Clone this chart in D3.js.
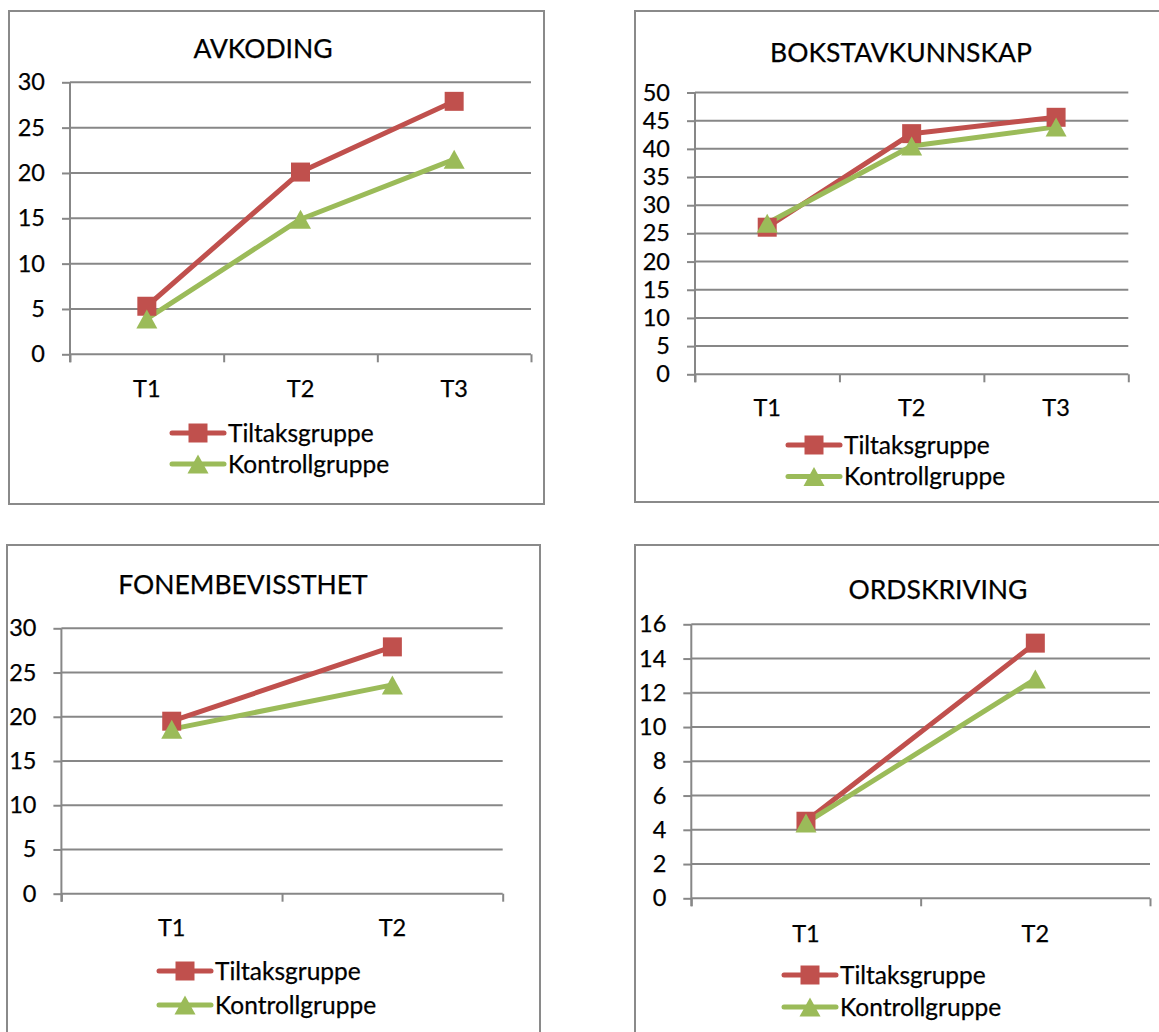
<!DOCTYPE html>
<html>
<head>
<meta charset="utf-8">
<script src="https://cdn.jsdelivr.net/npm/d3@7"></script>
<style>
  html, body { margin: 0; padding: 0; background: #fff; }
  svg { display: block; }
  text { font-family: Lato, "Open Sans", sans-serif; fill: #000; stroke: #000; stroke-width: 0.25px; }
</style>
</head>
<body>
<svg id="chart" width="1159" height="1032"></svg>
<script>
// Series names shared by all four charts
const seriesNames = ["Tiltaksgruppe", "Kontrollgruppe"];

// AVKODING
const avkodingTitle = "AVKODING";
const avkodingCategories = ["T1", "T2", "T3"];
const avkodingTiltak = [5.3, 20.1, 27.9];
const avkodingKontroll = [3.9, 14.9, 21.5];
const avkodingTicks = [0, 5, 10, 15, 20, 25, 30];

// BOKSTAVKUNNSKAP
const bokstavTitle = "BOKSTAVKUNNSKAP";
const bokstavCategories = ["T1", "T2", "T3"];
const bokstavTiltak = [26.1, 42.7, 45.6];
const bokstavKontroll = [26.8, 40.5, 43.9];
const bokstavTicks = [0, 5, 10, 15, 20, 25, 30, 35, 40, 45, 50];

// FONEMBEVISSTHET
const fonemTitle = "FONEMBEVISSTHET";
const fonemCategories = ["T1", "T2"];
const fonemTiltak = [19.5, 27.9];
const fonemKontroll = [18.6, 23.6];
const fonemTicks = [0, 5, 10, 15, 20, 25, 30];

// ORDSKRIVING
const ordTitle = "ORDSKRIVING";
const ordCategories = ["T1", "T2"];
const ordTiltak = [4.5, 14.9];
const ordKontroll = [4.4, 12.8];
const ordTicks = [0, 2, 4, 6, 8, 10, 12, 14, 16];

const RED = "#C0504D";
const GREEN = "#9BBB59";
const GRID = "#878787";
const FRAME = "#8a8a8a";

const svg = d3.select("#chart");
svg.append("rect").attr("width", 1159).attr("height", 1032).attr("fill", "#fff");

const squareSym = d3.symbol().type(d3.symbolSquare).size(19 * 19);
function trianglePath(w, h) {
  return `M0,${-h / 2}L${w / 2},${h / 2}L${-w / 2},${h / 2}Z`;
}

function drawMarker(g, kind, cx, cy) {
  if (kind === "square") {
    g.append("path").attr("d", squareSym()).attr("transform", `translate(${cx},${cy})`)
      .attr("fill", RED);
  } else {
    g.append("path").attr("d", trianglePath(21, 19)).attr("transform", `translate(${cx},${cy})`)
      .attr("fill", GREEN);
  }
}

function drawPanel(cfg) {
  const g = svg.append("g");
  const L = cfg.layout;

  // chart frame
  g.append("rect")
    .attr("x", L.frame[0]).attr("y", L.frame[1])
    .attr("width", L.frame[2]).attr("height", L.frame[3])
    .attr("fill", "none").attr("stroke", FRAME).attr("stroke-width", 2);

  // title
  g.append("text").attr("x", L.titleX).attr("y", L.titleY)
    .attr("text-anchor", "middle").style("font-size", "26.5px").text(cfg.title);

  const yMax = cfg.ticks[cfg.ticks.length - 1];
  const y = d3.scaleLinear().domain([0, yMax]).range([L.bottom, L.top]);
  const n = cfg.categories.length;
  const xBand = d3.scaleBand().domain(cfg.categories).range([L.left, L.right]);
  const xEdge = d3.scaleLinear().domain([0, n]).range([L.left, L.right]);
  const cx = c => xBand(c) + xBand.bandwidth() / 2;

  // horizontal gridlines
  g.append("g").selectAll("line").data(cfg.ticks).join("line")
    .attr("x1", L.left).attr("x2", L.right)
    .attr("y1", d => y(d)).attr("y2", d => y(d))
    .attr("stroke", GRID).attr("stroke-width", 2);

  // value axis
  const yAxis = g.append("g").attr("transform", `translate(${L.left},0)`)
    .call(d3.axisLeft(y).tickValues(cfg.ticks).tickSize(8).tickSizeOuter(0).tickPadding(17));
  yAxis.select(".domain").remove();
  yAxis.selectAll(".tick line").attr("stroke", GRID).attr("stroke-width", 2);
  yAxis.selectAll(".tick text").style("font-size", "23.5px").attr("fill", "#000");
  g.append("line").attr("x1", L.left).attr("x2", L.left)
    .attr("y1", L.top).attr("y2", L.bottom + 8)
    .attr("stroke", GRID).attr("stroke-width", 2);

  // category axis: tick marks between categories
  const xTicks = g.append("g").attr("transform", `translate(0,${L.bottom})`)
    .call(d3.axisBottom(xEdge).tickValues(d3.range(n + 1)).tickSize(8).tickSizeOuter(0).tickFormat(""));
  xTicks.select(".domain").remove();
  xTicks.selectAll(".tick line").attr("stroke", GRID).attr("stroke-width", 2);

  // category labels
  const xLab = g.append("g").attr("transform", `translate(0,${L.bottom})`)
    .call(d3.axisBottom(xBand).tickSize(0).tickPadding(L.labelPad));
  xLab.select(".domain").remove();
  xLab.selectAll(".tick text").style("font-size", "23.5px").attr("fill", "#000");

  // series lines and markers
  const series = [
    { values: cfg.tiltak, color: RED, kind: "square" },
    { values: cfg.kontroll, color: GREEN, kind: "triangle" }
  ];
  const line = d3.line().x(d => cx(d.c)).y(d => y(d.v));
  series.forEach(s => {
    const pts = cfg.categories.map((c, i) => ({ c, v: s.values[i] }));
    g.append("path").datum(pts).attr("d", line)
      .attr("fill", "none").attr("stroke", s.color).attr("stroke-width", 5)
      .attr("stroke-linejoin", "round").attr("stroke-linecap", "round");
  });
  series.forEach(s => {
    cfg.categories.forEach((c, i) => drawMarker(g, s.kind, cx(c), y(s.values[i])));
  });

  // legend
  series.forEach((s, i) => {
    const ly = L.legendY + i * L.legendDy;
    g.append("line").attr("x1", L.legendX).attr("x2", L.legendX + 52)
      .attr("y1", ly).attr("y2", ly)
      .attr("stroke", s.color).attr("stroke-width", 5).attr("stroke-linecap", "round");
    drawMarker(g, s.kind, L.legendX + 26, ly);
    g.append("text").attr("x", L.legendX + 56).attr("y", ly).attr("dy", "0.36em")
      .style("font-size", "24.5px").text(seriesNames[i]);
  });
}

drawPanel({
  title: avkodingTitle, categories: avkodingCategories,
  tiltak: avkodingTiltak, kontroll: avkodingKontroll, ticks: avkodingTicks,
  layout: { frame: [9, 11, 535, 493], titleX: 263, titleY: 58,
    left: 70, right: 531, top: 82.3, bottom: 354.3, labelPad: 26,
    legendX: 172, legendY: 433, legendDy: 31 }
});

drawPanel({
  title: bokstavTitle, categories: bokstavCategories,
  tiltak: bokstavTiltak, kontroll: bokstavKontroll, ticks: bokstavTicks,
  layout: { frame: [635, 11, 600, 491], titleX: 901, titleY: 62,
    left: 695, right: 1128.3, top: 92.5, bottom: 374.3, labelPad: 25,
    legendX: 788, legendY: 445, legendDy: 31.5 }
});

drawPanel({
  title: fonemTitle, categories: fonemCategories,
  tiltak: fonemTiltak, kontroll: fonemKontroll, ticks: fonemTicks,
  layout: { frame: [7, 545, 533, 600], titleX: 243, titleY: 594,
    left: 61.4, right: 502.7, top: 628.3, bottom: 893.7, labelPad: 26,
    legendX: 159, legendY: 971, legendDy: 34 }
});

drawPanel({
  title: ordTitle, categories: ordCategories,
  tiltak: ordTiltak, kontroll: ordKontroll, ticks: ordTicks,
  layout: { frame: [635, 545, 600, 600], titleX: 938, titleY: 599,
    left: 691.3, right: 1150, top: 624.3, bottom: 898.3, labelPad: 27,
    legendX: 784, legendY: 975, legendDy: 32 }
});
</script>
</body>
</html>
